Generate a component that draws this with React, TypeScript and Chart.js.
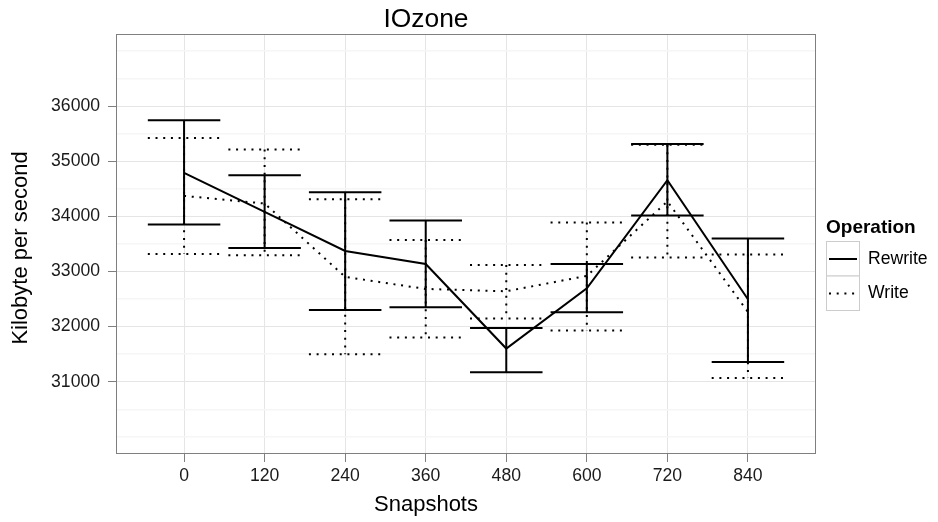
import React, { useEffect, useRef } from "react";
import { Chart, registerables } from "chart.js";

Chart.register(...registerables);

const snapshots = [0, 120, 240, 360, 480, 600, 720, 840];
const rewriteMean = [34787, 34080, 33372, 33136, 31602, 32696, 34654, 32496];
const rewriteUpper = [35742, 34745, 34437, 33923, 31976, 33136, 35313, 33597];
const rewriteLower = [33851, 33427, 32302, 32351, 31172, 32260, 34014, 31359];
const writeMean = [34370, 34232, 32901, 32683, 32641, 32920, 34270, 32266];
const writeUpper = [35421, 35211, 34310, 33572, 33118, 33887, 35300, 33307];
const writeLower = [33318, 33294, 31499, 31802, 32146, 31928, 33252, 31069];
const yMajorTicks = [31000, 32000, 33000, 34000, 35000, 36000];
const yMinorTicks = [30000, 30500, 31500, 32500, 33500, 34500, 35500, 36500, 37000];
const seriesNames = ["Rewrite", "Write"];

const ERR_HALF = 54;
const FONT = "'Liberation Sans', Arial, Helvetica, sans-serif";
const DOT = [2, 5.7];

function errorBars(xs: number[], lo: number[], hi: number[]) {
  const pts: { x: number; y: number | null }[] = [];
  xs.forEach((x, i) => {
    pts.push({ x: x - ERR_HALF, y: hi[i] }, { x: x + ERR_HALF, y: hi[i] }, { x, y: null });
    pts.push({ x, y: hi[i] }, { x, y: lo[i] }, { x, y: null });
    pts.push({ x: x - ERR_HALF, y: lo[i] }, { x: x + ERR_HALF, y: lo[i] }, { x, y: null });
  });
  return pts;
}

const decor = {
  id: "decor",
  beforeDraw(chart: any) {
    const ctx = chart.ctx;
    ctx.save();
    ctx.fillStyle = "#ffffff";
    ctx.fillRect(0, 0, chart.width, chart.height);
    ctx.restore();
  },
  afterDraw(chart: any) {
    const { ctx, chartArea: a } = chart;
    ctx.save();
    ctx.strokeStyle = "#7F7F7F";
    ctx.lineWidth = 1;
    ctx.strokeRect(a.left + 0.5, a.top + 0.5, a.right - a.left - 1, a.bottom - a.top - 1);

    ctx.fillStyle = "#000000";
    ctx.textAlign = "center";
    ctx.textBaseline = "alphabetic";
    ctx.font = `26.4px ${FONT}`;
    ctx.fillText("IOzone", 426, 26.5);
    ctx.font = `22px ${FONT}`;
    ctx.fillText("Snapshots", 426, 510.5);
    ctx.save();
    ctx.translate(26.5, 248);
    ctx.rotate(-Math.PI / 2);
    ctx.fillText("Kilobyte per second", 0, 0);
    ctx.restore();

    // legend
    ctx.textAlign = "left";
    ctx.font = `bold 19px ${FONT}`;
    ctx.fillText("Operation", 826, 233);
    const keys = [
      { y: 241.5, dash: [] as number[] },
      { y: 276, dash: DOT },
    ];
    keys.forEach((k, i) => {
      ctx.fillStyle = "#ffffff";
      ctx.fillRect(826.5, k.y, 33, 34.5);
      ctx.strokeStyle = "#CCCCCC";
      ctx.lineWidth = 1;
      ctx.setLineDash([]);
      ctx.strokeRect(826.5, k.y, 33, 34.5);
      ctx.strokeStyle = "#000000";
      ctx.lineWidth = 2;
      ctx.setLineDash(k.dash);
      ctx.beginPath();
      ctx.moveTo(829, k.y + 17.5);
      ctx.lineTo(857, k.y + 17.5);
      ctx.stroke();
      ctx.setLineDash([]);
      ctx.fillStyle = "#000000";
      ctx.font = `17.6px ${FONT}`;
      ctx.textBaseline = "middle";
      ctx.fillText(seriesNames[i], 868, k.y + 17.5);
      ctx.textBaseline = "alphabetic";
    });
    ctx.restore();
  },
};

export default function App() {
  const ref = useRef<HTMLCanvasElement | null>(null);
  useEffect(() => {
    if (!ref.current) return;
    const chart = new Chart(ref.current, {
      type: "line",
      data: {
        datasets: [
          {
            label: "Rewrite error",
            data: errorBars(snapshots, rewriteLower, rewriteUpper),
            borderColor: "#000000",
            borderWidth: 2,
            pointRadius: 0,
            spanGaps: false,
            tension: 0,
          },
          {
            label: "Write error",
            data: errorBars(snapshots, writeLower, writeUpper),
            borderColor: "#000000",
            borderWidth: 2,
            borderDash: DOT,
            pointRadius: 0,
            spanGaps: false,
            tension: 0,
          },
          {
            label: seriesNames[0],
            data: snapshots.map((x, i) => ({ x, y: rewriteMean[i] })),
            borderColor: "#000000",
            borderWidth: 2,
            pointRadius: 0,
            tension: 0,
          },
          {
            label: seriesNames[1],
            data: snapshots.map((x, i) => ({ x, y: writeMean[i] })),
            borderColor: "#000000",
            borderWidth: 2,
            borderDash: DOT,
            pointRadius: 0,
            tension: 0,
          },
        ],
      },
      options: {
        animation: false,
        responsive: false,
        events: [],
        layout: { padding: { top: 34, right: 122, left: 0, bottom: 0 } },
        plugins: { legend: { display: false }, title: { display: false }, tooltip: { enabled: false } },
        scales: {
          x: {
            type: "linear",
            min: -101.4,
            max: 941.4,
            afterBuildTicks: (scale: any) => {
              scale.ticks = snapshots.map((v) => ({ value: v }));
            },
            afterFit: (scale: any) => {
              scale.height = 68;
            },
            border: { display: false },
            grid: { color: "#E5E5E5", lineWidth: 1, tickColor: "#7F7F7F", tickLength: 8, tickWidth: 1 },
            ticks: {
              autoSkip: false,
              maxRotation: 0,
              padding: 4,
              color: "#1A1A1A",
              font: { family: FONT, size: 17.6 },
              callback: (v: any) => String(v),
            },
          },
          y: {
            type: "linear",
            min: 29690,
            max: 37306,
            afterBuildTicks: (scale: any) => {
              const all = [...yMajorTicks, ...yMinorTicks].sort((p, q) => p - q);
              scale.ticks = all.map((v) => ({ value: v }));
            },
            afterFit: (scale: any) => {
              scale.width = 116;
            },
            border: { display: false },
            grid: {
              color: (c: any) => (c.tick && yMajorTicks.includes(c.tick.value) ? "#E5E5E5" : "#F6F6F6"),
              lineWidth: (c: any) => (c.tick && yMajorTicks.includes(c.tick.value) ? 1 : 1.5),
              tickColor: (c: any) => (c.tick && yMajorTicks.includes(c.tick.value) ? "#7F7F7F" : "rgba(0,0,0,0)"),
              tickLength: 8,
              tickWidth: 1,
            },
            ticks: {
              autoSkip: false,
              padding: 8,
              color: "#1A1A1A",
              font: { family: FONT, size: 17.6 },
              callback: (v: any) => (yMajorTicks.includes(v) ? String(v) : ""),
            },
          },
        },
      },
      plugins: [decor],
    } as any);
    return () => chart.destroy();
  }, []);
  return (
    <div style={{ position: "absolute", left: 0, top: 0, width: 938, height: 522 }}>
      <canvas ref={ref} width={938} height={522} style={{ display: "block", width: 938, height: 522 }} />
    </div>
  );
}
